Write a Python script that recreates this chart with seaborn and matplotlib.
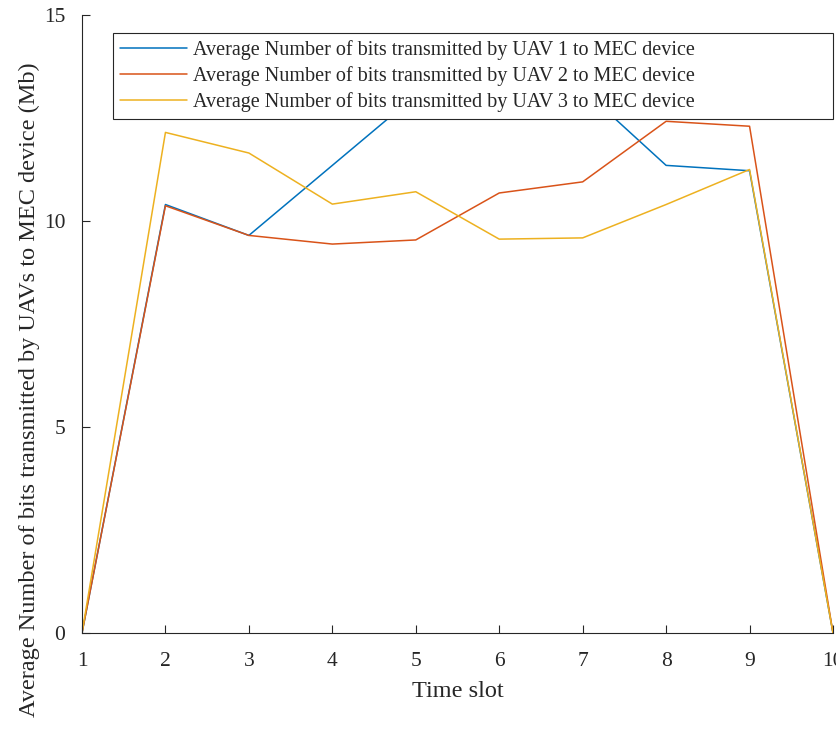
import matplotlib
matplotlib.use("Agg")
import matplotlib.pyplot as plt
import seaborn as sns
import pandas as pd

slots = [1, 2, 3, 4, 5, 6, 7, 8, 9, 10]
uav1 = [0, 10.40, 9.65, 11.35, 13.05, 13.40, 13.20, 11.35, 11.22, 0]
uav2 = [0, 10.37, 9.65, 9.44, 9.54, 10.68, 10.95, 12.42, 12.30, 0]
uav3 = [0, 12.15, 11.65, 10.41, 10.71, 9.56, 9.59, 10.40, 11.25, 0]
labels = ["Average Number of bits transmitted by UAV 1 to MEC device",
          "Average Number of bits transmitted by UAV 2 to MEC device",
          "Average Number of bits transmitted by UAV 3 to MEC device"]
colors = ["#0072BD", "#D95319", "#EDB120"]

rows = []
for lab, vals in zip(labels, [uav1, uav2, uav3]):
    for s, v in zip(slots, vals):
        rows.append({"slot": s, "value": v, "series": lab})
df = pd.DataFrame(rows)

sns.set_style("ticks")
plt.rcParams['font.family'] = ['Liberation Serif', 'DejaVu Serif']
plt.rcParams['mathtext.fontset'] = 'stix'

fig = plt.figure(figsize=(8.37, 7.29), dpi=100)
ax = fig.add_axes([82/837, 1 - 633/729, (833-82)/837, (633-15)/729])
sns.lineplot(data=df, x="slot", y="value", hue="series", palette=colors,
             linewidth=1.1, ax=ax, estimator=None, sort=False)

ax.set_xlim(1, 10)
ax.set_ylim(0, 15)
ax.set_xticks(slots)
ax.set_yticks([0, 5, 10, 15])
ax.tick_params(direction="in", length=6, width=0.8, labelsize=15.5, colors="#262626")
ax.tick_params(axis="y", pad=12)
ax.tick_params(axis="x", pad=14)
for sp in ["top", "right"]:
    ax.spines[sp].set_visible(False)
for sp in ["left", "bottom"]:
    ax.spines[sp].set_linewidth(0.8)
    ax.spines[sp].set_color("#262626")
ax.set_xlabel("Time slot", fontsize=17.5, labelpad=7, color="#262626")
ax.set_ylabel("Average Number of bits transmitted by UAVs to MEC device (Mb)", fontsize=17.5,
              color="#262626")
ax.yaxis.set_label_coords((40 - 82) / 751, (633 - 390) / 618)

h, l = ax.get_legend_handles_labels()
x0 = (113 - 82) / 751
w = (833 - 113) / 751
leg = ax.legend(h, l, loc="upper left", bbox_to_anchor=(x0, (633 - 33) / 618, w, 0.0),
                mode="expand", borderaxespad=0, fontsize=14.5,
                frameon=True, fancybox=False, framealpha=1, edgecolor="#262626",
                handlelength=3.3, handletextpad=0.3, labelspacing=0.3, borderpad=0.35)
leg.get_frame().set_linewidth(0.8)
for t in leg.get_texts():
    t.set_color("#262626")

fig.savefig("out.png", dpi=100)
